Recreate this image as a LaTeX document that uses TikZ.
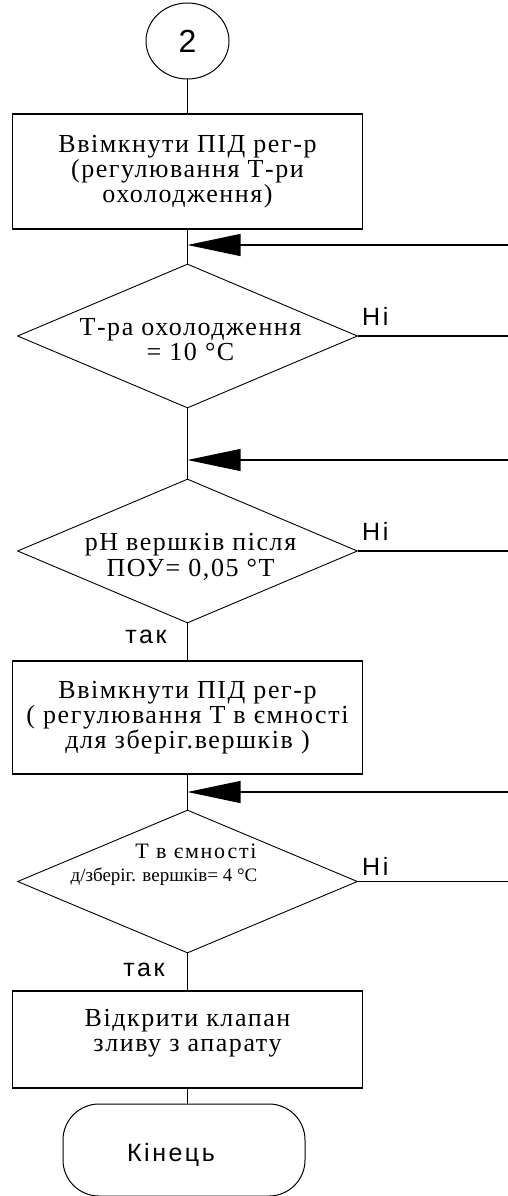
\documentclass[tikz,border=0pt]{standalone}
\usepackage{fontspec}
\setmainfont{Liberation Serif}[LetterSpace=6]
\newfontfamily\serifB{Liberation Serif}
\newfontfamily\serifC{Liberation Serif}[LetterSpace=8]
\newfontfamily\sansf{Liberation Sans}[LetterSpace=10]
\newfontfamily\sansplain{Liberation Sans}
\usetikzlibrary{shapes.geometric,arrows.meta}
\begin{document}
\begin{tikzpicture}[x=1pt,y=-1pt,
  box/.style={draw, line width=1.3pt, minimum width=350pt, inner sep=0pt, align=center, font=\fontsize{26}{25}\selectfont},
  dec/.style={draw, diamond, aspect=2.36, line width=0.9pt, minimum width=340pt, minimum height=144pt, inner sep=0pt},
  dtext/.style={align=center, inner sep=0pt, font=\fontsize{26}{25}\selectfont},
  conn/.style={line width=1.3pt},
  back/.style={line width=1.3pt, -{Triangle[length=53pt,width=22pt]}},
  lbl/.style={font=\sansf\fontsize{25}{25}\selectfont, inner sep=0pt}
]
\useasboundingbox (0,0) rectangle (508,1196);
\node[draw, ellipse, line width=1pt, minimum width=83pt, minimum height=76pt, inner sep=0pt, font=\sansplain\fontsize{32}{32}\selectfont] (c2) at (187.5,41) {2};
\node[box, minimum height=115pt] (b1) at (187.5,171.5) {Ввімкнути ПІД рег-р\\(регулювання Т-ри\\охолодження)};
\coordinate (j1) at (187.5,245);
\node[dec, label={[dtext, xshift=3pt, yshift=-3.5pt]center:Т-ра охолодження\\= 10 °С}] (d1) at (187.5,336) {};
\coordinate (j2) at (187.5,460);
\node[dec, label={[dtext, font=\fontsize{26}{26}\selectfont, xshift=3pt, yshift=-6pt]center:рН вершків після\\ПОУ= 0,05 °Т}] (d2) at (187.5,551) {};
\node[box, minimum height=113pt] (b2) at (187.5,717.5) {Ввімкнути ПІД рег-р\\( регулювання Т в ємності\\для зберіг.вершків )};
\coordinate (j3) at (187.5,792);
\node[dec, minimum height=143pt, label={[dtext, font=\serifB\fontsize{19}{23}\selectfont, xshift=-23.5pt, yshift=17pt]center:{\serifC\fontsize{22}{23}\selectfont\hspace*{64pt}Т в ємності}\\д/зберіг. вершків= 4 °С}] (d3) at (187.5,881.5) {};
\node[box, minimum height=97pt, text depth=19pt] (b3) at (187.5,1039.5) {Відкрити клапан\\зливу з апарату};
\node[draw, rectangle, rounded corners=36pt, line width=1pt, minimum width=242pt, minimum height=92pt,
  label={[font=\sansf\fontsize{25}{25}\selectfont, inner sep=0pt, xshift=-13pt, yshift=-5pt]center:Кінець}] (t) at (184,1150) {};
% right edge coordinates
\coordinate (r1a) at (508,245);
\coordinate (r1b) at (508,336);
\coordinate (r2a) at (508,460);
\coordinate (r2b) at (508,551);
\coordinate (r3a) at (508,792);
\coordinate (r3b) at (508,881.5);
% main flow
\draw[conn] (c2) -- (b1);
\draw[conn] (b1) -- (d1);
\draw[conn] (d1) -- (d2);
\draw[conn] (d2) -- (b2);
\draw[conn] (b2) -- (d3);
\draw[conn] (d3) -- (b3);
\draw[conn] (b3.south) -- (t.north -| b3.south);
% no branches
\draw[conn] (d1.east) -- (r1b);
\draw[conn] (d2.east) -- (r2b);
\draw[conn] (d3.east) -- (r3b);
\draw[back] (r1a) -- (j1);
\draw[back] (r2a) -- (j2);
\draw[back] (r3a) -- (j3);
% labels
\node[lbl, anchor=base west] (n1) at (362,325) {Ні};
\node[lbl, anchor=base west] (n2) at (362,540) {Ні};
\node[lbl, anchor=base west] (n3) at (362,875) {Ні};
\node[lbl, anchor=base] (y2) at (146,643) {так};
\node[lbl, anchor=base] (y3) at (144,976) {так};
\end{tikzpicture}
\end{document}
